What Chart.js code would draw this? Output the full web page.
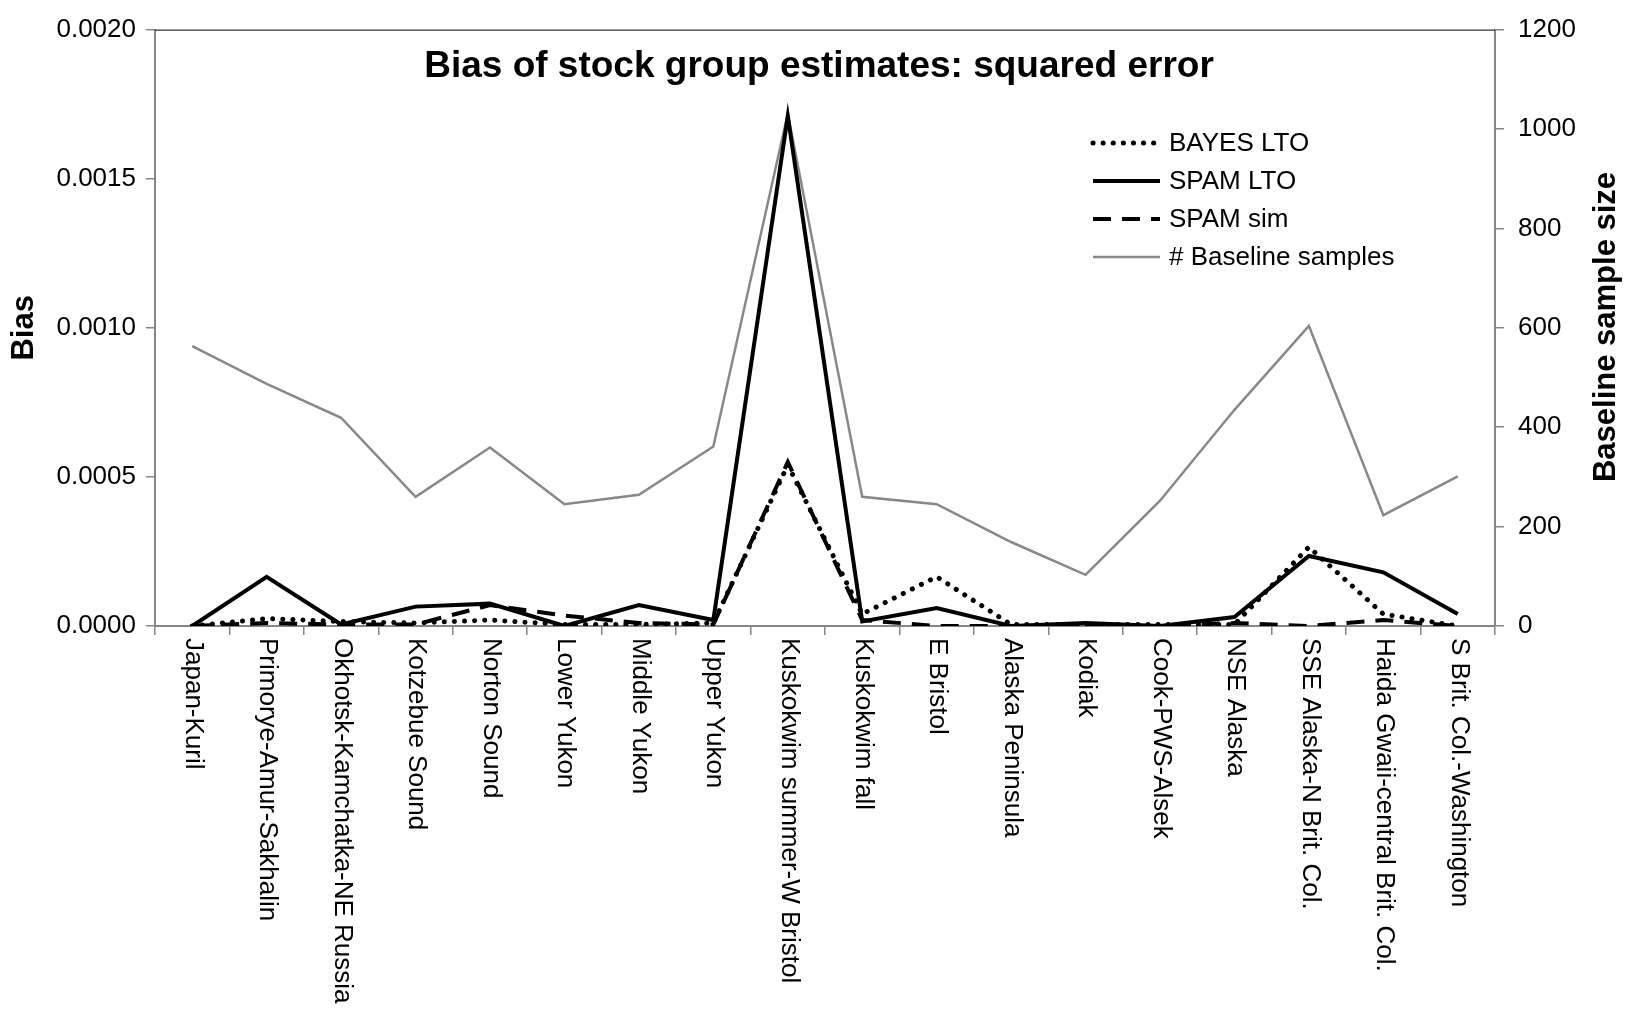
<!DOCTYPE html>
<html>
<head>
<meta charset="utf-8">
<script src="https://cdn.jsdelivr.net/npm/chart.js@4.4.1/dist/chart.umd.min.js"></script>
<style>
  html, body { margin: 0; padding: 0; background: #fff; }
  #wrap { position: relative; width: 1637px; height: 1018px; }
</style>
</head>
<body>
<div id="wrap"><canvas id="biasChart" width="1637" height="1018"></canvas></div>
<script>
const stockGroups = [
  "Japan-Kuril",
  "Primorye-Amur-Sakhalin",
  "Okhotsk-Kamchatka-NE Russia",
  "Kotzebue Sound",
  "Norton Sound",
  "Lower Yukon",
  "Middle Yukon",
  "Upper Yukon",
  "Kuskokwim summer-W Bristol",
  "Kuskokwim fall",
  "E Bristol",
  "Alaska Peninsula",
  "Kodiak",
  "Cook-PWS-Alsek",
  "NSE Alaska",
  "SSE Alaska-N Brit. Col.",
  "Haida Gwaii-central Brit. Col.",
  "S Brit. Col.-Washington",
];

const bayesLto = [0, 0.000025, 0.000015, 0.00001, 0.00002, 0.000005, 0.000005, 0.00001, 0.00054, 0.00004, 0.000165, 0.000005, 0.000005, 0.000005, 0.000005, 0.000265, 0.00004, 0];
const spamLto = [0, 0.000165, 0.000005, 0.000065, 0.000075, 0, 0.00007, 0.00002, 0.00171, 0.000015, 0.00006, 0, 0.00001, 0, 0.00003, 0.000235, 0.00018, 0.00004];
const spamSim = [0, 0.00001, 0.000005, 0.000005, 0.00007, 0.000035, 0.00001, 0.000005, 0.00055, 0.00002, 0, 0, 0, 0, 0.00001, 0, 0.00002, 0];
const baselineSamples = [563, 487, 419, 260, 359, 245, 264, 361, 1031, 260, 245, 169, 103, 252, 435, 604, 223, 301];

const biasTicks = [0, 0.0005, 0.0010, 0.0015, 0.0020];
const sampleTicks = [0, 200, 400, 600, 800, 1000, 1200];

const FONT = "'Liberation Sans', Arial, sans-serif";
const AXIS_GRAY = "#868686";

// title, legend, right axis title and rotated category labels
const decorPlugin = {
  id: "decor",
  afterDraw(chart) {
    const { ctx, chartArea, scales } = chart;
    ctx.save();

    // top frame line
    ctx.strokeStyle = "#000";
    ctx.lineWidth = 1;
    ctx.beginPath();
    ctx.moveTo(chartArea.left, chartArea.top + 0.5);
    ctx.lineTo(chartArea.right, chartArea.top + 0.5);
    ctx.stroke();

    // title
    ctx.fillStyle = "#000";
    ctx.font = "bold 37px " + FONT;
    ctx.textAlign = "center";
    ctx.textBaseline = "middle";
    ctx.fillText("Bias of stock group estimates: squared error", 819, 67);

    // right axis title, reading bottom to top
    ctx.save();
    ctx.font = "bold 31px " + FONT;
    ctx.translate(1606, 327);
    ctx.rotate(-Math.PI / 2);
    ctx.fillText("Baseline sample size", 0, 0);
    ctx.restore();

    // category labels, rotated to read top to bottom
    ctx.font = "26px " + FONT;
    ctx.textAlign = "left";
    ctx.textBaseline = "middle";
    stockGroups.forEach((name, i) => {
      const x = scales.x.getPixelForValue(i);
      ctx.save();
      ctx.translate(x + 1, chartArea.bottom + 12);
      ctx.rotate(Math.PI / 2);
      ctx.fillText(name, 0, 0);
      ctx.restore();
    });

    // legend
    const rows = [143, 181, 219, 257];
    ctx.font = "26px " + FONT;
    chart.data.datasets.forEach((ds, i) => {
      const y = rows[i];
      ctx.save();
      ctx.strokeStyle = ds.borderColor;
      ctx.lineWidth = ds.borderWidth;
      ctx.lineCap = ds.borderCapStyle || "butt";
      ctx.setLineDash(ds.borderDash || []);
      ctx.beginPath();
      ctx.moveTo(1093, y);
      ctx.lineTo(1160, y);
      ctx.stroke();
      ctx.restore();
      ctx.fillStyle = "#000";
      ctx.textAlign = "left";
      ctx.textBaseline = "middle";
      ctx.fillText(ds.label, 1169, y + 1);
    });

    ctx.restore();
  },
};

const ctx = document.getElementById("biasChart");

new Chart(ctx, {
  type: "line",
  data: {
    labels: stockGroups,
    datasets: [
      {
        label: "BAYES LTO",
        data: bayesLto,
        yAxisID: "y",
        borderColor: "#000",
        borderWidth: 5,
        borderDash: [0.1, 10],
        borderCapStyle: "round",
        pointRadius: 0,
        order: 1,
      },
      {
        label: "SPAM LTO",
        data: spamLto,
        yAxisID: "y",
        borderColor: "#000",
        borderWidth: 4,
        pointRadius: 0,
        order: 0,
      },
      {
        label: "SPAM sim",
        data: spamSim,
        yAxisID: "y",
        borderColor: "#000",
        borderWidth: 4,
        borderDash: [18, 11],
        pointRadius: 0,
        order: 2,
      },
      {
        label: "# Baseline samples",
        data: baselineSamples,
        yAxisID: "y2",
        borderColor: "#888888",
        borderWidth: 2.5,
        pointRadius: 0,
        order: 3,
      },
    ],
  },
  options: {
    responsive: false,
    animation: false,
    events: [],
    layout: { padding: { top: 19, left: 0, right: 0, bottom: 0 } },
    plugins: {
      legend: { display: false },
      tooltip: { enabled: false },
      title: { display: false },
    },
    scales: {
      x: {
        offset: true,
        afterFit: (scale) => { scale.height = 392; },
        ticks: { display: false },
        grid: {
          offset: true,
          drawOnChartArea: false,
          tickLength: 9,
          color: AXIS_GRAY,
          lineWidth: 1.5,
        },
        border: { color: AXIS_GRAY, width: 2 },
      },
      y: {
        position: "left",
        min: 0,
        max: 0.002,
        afterFit: (scale) => { scale.width = 155; },
        afterBuildTicks: (scale) => { scale.ticks = biasTicks.map((v) => ({ value: v })); },
        ticks: {
          padding: 10,
          color: "#000",
          font: { family: FONT, size: 26 },
          callback: (v) => Number(v).toFixed(4),
        },
        grid: {
          drawOnChartArea: false,
          tickLength: 9,
          color: AXIS_GRAY,
          lineWidth: 1.5,
        },
        border: { color: AXIS_GRAY, width: 2 },
        title: {
          display: true,
          text: "Bias",
          color: "#000",
          font: { family: FONT, size: 31, weight: "bold" },
          padding: { top: 6, bottom: 0 },
        },
      },
      y2: {
        position: "right",
        min: 0,
        max: 1200,
        afterFit: (scale) => { scale.width = 142; },
        afterBuildTicks: (scale) => { scale.ticks = sampleTicks.map((v) => ({ value: v })); },
        ticks: {
          padding: 14,
          color: "#000",
          font: { family: FONT, size: 26 },
          callback: (v) => String(v),
        },
        grid: {
          drawOnChartArea: false,
          tickLength: 9,
          color: AXIS_GRAY,
          lineWidth: 1.5,
        },
        border: { color: AXIS_GRAY, width: 2 },
        title: { display: false },
      },
    },
  },
  plugins: [decorPlugin],
});
</script>
</body>
</html>
